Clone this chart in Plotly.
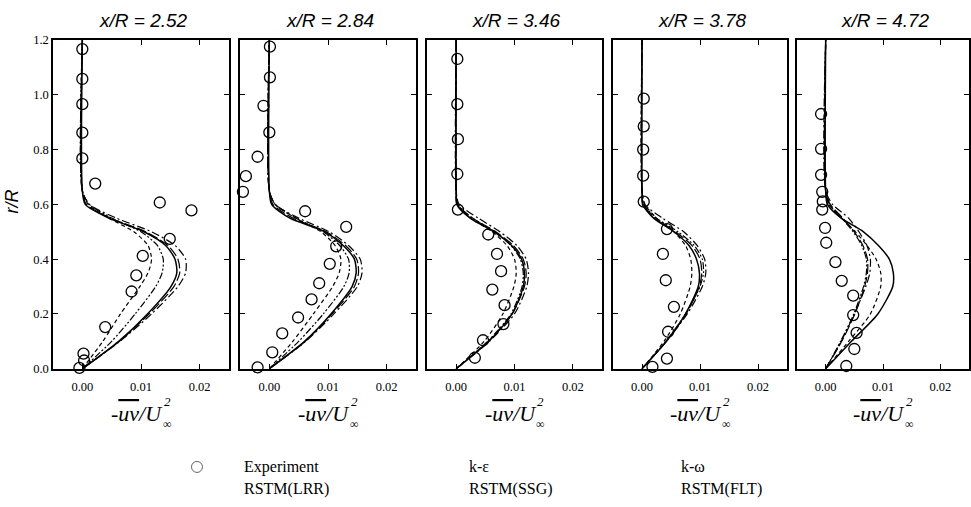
import plotly.graph_objects as go

# ---------------- data ----------------
PANEL_TITLES = ["x/R = 2.52", "x/R = 2.84", "x/R = 3.46", "x/R = 3.78", "x/R = 4.72"]
X_TICKS = [0.0, 0.01, 0.02]
Y_TICKS = [0.0, 0.2, 0.4, 0.6, 0.8, 1.0, 1.2]

# radial grid on which the model curves were read
R_GRID = [0.0, 0.1, 0.2, 0.3, 0.35, 0.4, 0.45, 0.5, 0.55, 0.6, 0.65, 1.2]

KE = [
    [0, 0.0062, 0.0111, 0.0151, 0.0161, 0.0158, 0.0142, 0.0105, 0.0045, 0.0005, 0, 0],
    [0, 0.0060, 0.0105, 0.0141, 0.0148, 0.0145, 0.0126, 0.0095, 0.0035, 0.0004, 0, 0],
    [0, 0.0056, 0.0096, 0.0115, 0.0117, 0.0112, 0.0095, 0.0065, 0.0024, 0.0001, 0, 0],
    [0, 0.0042, 0.0075, 0.0097, 0.0099, 0.0094, 0.0081, 0.0055, 0.0020, 0.0001, 0, 0],
    [0, 0.0045, 0.0091, 0.0117, 0.0118, 0.0111, 0.0092, 0.0066, 0.0027, 0.0003, 0, 0],
]
KW = [
    [0, 0.0035, 0.0065, 0.0098, 0.0112, 0.0118, 0.0112, 0.0088, 0.0045, 0.0010, 0, 0],
    [0, 0.0040, 0.0075, 0.0108, 0.0119, 0.0122, 0.0112, 0.0088, 0.0045, 0.0010, 0, 0],
    [0, 0.0048, 0.0080, 0.0099, 0.0103, 0.0100, 0.0087, 0.0062, 0.0025, 0.0003, 0, 0],
    [0, 0.0038, 0.0066, 0.0083, 0.0086, 0.0084, 0.0075, 0.0055, 0.0025, 0.0005, 0, 0],
    [0, 0.0040, 0.0078, 0.0096, 0.0096, 0.0088, 0.0072, 0.0052, 0.0028, 0.0006, 0, 0],
]
LRR = [
    [0, 0.0063, 0.0114, 0.0156, 0.0166, 0.0163, 0.0146, 0.0108, 0.0048, 0.0007, 0, 0],
    [0, 0.0061, 0.0107, 0.0145, 0.0152, 0.0149, 0.0130, 0.0097, 0.0040, 0.0006, 0, 0],
    [0, 0.0055, 0.0096, 0.0117, 0.0120, 0.0115, 0.0098, 0.0068, 0.0028, 0.0002, 0, 0],
    [0, 0.0042, 0.0076, 0.0099, 0.0103, 0.0100, 0.0086, 0.0058, 0.0022, 0.0002, 0, 0],
    [0, 0.0028, 0.0051, 0.0068, 0.0073, 0.0073, 0.0065, 0.0050, 0.0030, 0.0008, 0, 0],
]
SSG = [
    [0, 0.0064, 0.0118, 0.0163, 0.0176, 0.0176, 0.0158, 0.0118, 0.0058, 0.0012, 0, 0],
    [0, 0.0062, 0.0110, 0.0150, 0.0158, 0.0155, 0.0135, 0.0102, 0.0050, 0.0010, 0, 0],
    [0, 0.0057, 0.0100, 0.0121, 0.0124, 0.0120, 0.0104, 0.0075, 0.0038, 0.0005, 0, 0],
    [0, 0.0042, 0.0078, 0.0104, 0.0110, 0.0108, 0.0095, 0.0072, 0.0035, 0.0005, 0, 0],
    [0, 0.0027, 0.0050, 0.0070, 0.0077, 0.0078, 0.0072, 0.0058, 0.0040, 0.0012, 0, 0],
]
FLT = [
    [0, 0.0050, 0.0090, 0.0125, 0.0136, 0.0138, 0.0128, 0.0100, 0.0050, 0.0012, 0, 0],
    [0, 0.0050, 0.0092, 0.0127, 0.0136, 0.0135, 0.0120, 0.0092, 0.0045, 0.0010, 0, 0],
    [0, 0.0054, 0.0094, 0.0113, 0.0115, 0.0110, 0.0094, 0.0066, 0.0028, 0.0002, 0, 0],
    [0, 0.0041, 0.0075, 0.0100, 0.0106, 0.0104, 0.0090, 0.0062, 0.0025, 0.0003, 0, 0],
    [0, 0.0026, 0.0049, 0.0066, 0.0071, 0.0071, 0.0063, 0.0048, 0.0028, 0.0006, 0, 0],
]

EXP_X = [
    [0.0, 0.0, 0.0, 0.0, 0.0, 0.0022, 0.0132, 0.0186, 0.0149, 0.0103, 0.0092, 0.0084, 0.0039, 0.0002, 0.0003, -0.0005],
    [0.0001, 0.0001, -0.0010, 0.0, -0.0020, -0.0040, -0.0045, 0.0061, 0.0131, 0.0114, 0.0103, 0.0085, 0.0072, 0.0049, 0.0022, 0.0005, -0.0020],
    [0.0002, 0.0002, 0.0003, 0.0002, 0.0003, 0.0055, 0.0070, 0.0077, 0.0062, 0.0083, 0.0081, 0.0046, 0.0032],
    [0.0003, 0.0003, 0.0002, 0.0002, 0.0003, 0.0043, 0.0036, 0.0041, 0.0055, 0.0045, 0.0043, 0.0018],
    [-0.0008, -0.0008, -0.0008, -0.0006, -0.0005, -0.0006, -0.0001, 0.0001, 0.0017, 0.0028, 0.0048, 0.0048, 0.0054, 0.0050, 0.0036],
]
EXP_R = [
    [1.167, 1.058, 0.966, 0.862, 0.768, 0.676, 0.607, 0.578, 0.474, 0.412, 0.341, 0.282, 0.152, 0.055, 0.030, 0.003],
    [1.176, 1.064, 0.960, 0.863, 0.774, 0.703, 0.646, 0.575, 0.518, 0.447, 0.383, 0.312, 0.253, 0.187, 0.129, 0.060, 0.005],
    [1.131, 0.966, 0.838, 0.711, 0.581, 0.490, 0.419, 0.356, 0.289, 0.232, 0.163, 0.104, 0.040],
    [0.986, 0.885, 0.800, 0.705, 0.610, 0.510, 0.419, 0.323, 0.226, 0.135, 0.037, 0.007],
    [0.930, 0.803, 0.708, 0.646, 0.611, 0.581, 0.514, 0.460, 0.389, 0.321, 0.267, 0.196, 0.131, 0.072, 0.010],
]

LEGEND_ROW1 = ["Experiment", "k-ε", "k-ω"]
LEGEND_ROW2 = ["RSTM(LRR)", "RSTM(SSG)", "RSTM(FLT)"]

# ---------------- layout geometry (pixels) ----------------
W, H = 971, 507
PANELS_PX = [(53, 229), (240, 416), (427, 602), (613, 787), (797, 969)]
Y_TOP_PX, Y_BOT_PX = 34, 372

MODELS = [
    ("k-ε", KE, dict(color="black", width=1.5)),
    ("k-ω", KW, dict(color="black", width=1.2, dash="4px,3px")),
    ("RSTM(LRR)", LRR, dict(color="black", width=1.2, dash="10px,3px")),
    ("RSTM(SSG)", SSG, dict(color="black", width=1.2, dash="8px,3px,2px,3px")),
    ("RSTM(FLT)", FLT, dict(color="black", width=1.2, dash="7px,2px,2px,2px,2px,2px")),
]

fig = go.Figure()
ydom = [1 - Y_BOT_PX / H, 1 - Y_TOP_PX / H]
serif = "Liberation Serif, Times New Roman, serif"
sans = "Liberation Sans, Arial, sans-serif"
tickfont = dict(family=serif, size=12.5, color="black")

for i in range(5):
    n = "" if i == 0 else str(i + 1)
    xa, ya = "x" + n, "y" + n
    for name, data, line in MODELS:
        fig.add_trace(go.Scatter(
            x=data[i], y=R_GRID, mode="lines", name=name, showlegend=False,
            line=dict(shape="spline", smoothing=0.7, **line),
            xaxis=xa, yaxis=ya))
    fig.add_trace(go.Scatter(
        x=EXP_X[i], y=EXP_R[i], mode="markers", name="Experiment", showlegend=False,
        marker=dict(symbol="circle-open", size=11, color="black", line=dict(width=1.3, color="black")),
        cliponaxis=False, xaxis=xa, yaxis=ya))

    x0, x1 = PANELS_PX[i]
    fig.layout["xaxis" + n] = dict(
        domain=[x0 / W, x1 / W], anchor=ya, range=[-0.005, 0.025],
        tickvals=X_TICKS, ticktext=["%.2f" % v for v in X_TICKS],
        ticks="inside", ticklen=5, tickwidth=1, tickcolor="black", ticklabelstandoff=6,
        showline=True, linecolor="black", linewidth=1.5, mirror="ticks",
        showgrid=False, zeroline=False, tickfont=tickfont)
    fig.layout["yaxis" + n] = dict(
        domain=ydom, anchor=xa, range=[0, 1.2],
        tickvals=Y_TICKS, ticktext=["%.1f" % v for v in Y_TICKS],
        showticklabels=(i == 0),
        ticks="inside", ticklen=5, tickwidth=1, tickcolor="black",
        showline=True, linecolor="black", linewidth=1.5, mirror="ticks",
        showgrid=False, zeroline=False, tickfont=tickfont)

    cx = (x0 + x1) / 2 / W
    fig.add_annotation(text="<i>" + PANEL_TITLES[i] + "</i>", x=cx + 2 / W, y=1 - 14 / H,
                       xref="paper", yref="paper", showarrow=False, xanchor="center", yanchor="middle",
                       font=dict(family=sans, size=19, color="black"))
    fig.add_annotation(
        text="<i>-<span style='text-decoration:overline'>uv</span>/U</i>",
        x=cx - 4 / W, y=1 - 418 / H, xref="paper", yref="paper", showarrow=False,
        xanchor="center", yanchor="middle",
        font=dict(family=serif, size=22, color="black"))
    fig.add_annotation(text="<i>2</i>", x=cx + 26 / W, y=1 - 406 / H, xref="paper", yref="paper",
                       showarrow=False, xanchor="center", yanchor="middle",
                       font=dict(family=serif, size=13, color="black"))
    fig.add_annotation(text="∞", x=cx + 26 / W, y=1 - 429 / H, xref="paper", yref="paper",
                       showarrow=False, xanchor="center", yanchor="middle",
                       font=dict(family=serif, size=12, color="black"))

fig.add_annotation(text="<i>r/R</i>", x=12 / W, y=1 - 200 / H, xref="paper", yref="paper",
                   showarrow=False, textangle=-90, xanchor="center", yanchor="middle",
                   font=dict(family=sans, size=18, color="black"))

# legend (text block)
leg_font = dict(family=serif, size=16, color="black")
LEG_X = [242, 467, 679]
for j in range(3):
    fig.add_annotation(text=LEGEND_ROW1[j], x=LEG_X[j] / W, y=1 - 473 / H, xref="paper", yref="paper",
                       xanchor="left", yanchor="middle", showarrow=False, font=leg_font)
    fig.add_annotation(text=LEGEND_ROW2[j], x=LEG_X[j] / W, y=1 - 496 / H, xref="paper", yref="paper",
                       xanchor="left", yanchor="middle", showarrow=False, font=leg_font)

# legend marker on an overlay axis spanning the page
fig.add_trace(go.Scatter(x=[197 / W], y=[1 - 473 / H], mode="markers", showlegend=False,
                         marker=dict(symbol="circle-open", size=11, color="#666",
                                     line=dict(width=1, color="#666")),
                         xaxis="x6", yaxis="y6", cliponaxis=False))
fig.layout["xaxis6"] = dict(domain=[0, 1], range=[0, 1], visible=False, anchor="y6")
fig.layout["yaxis6"] = dict(domain=[0, 1], range=[0, 1], visible=False, anchor="x6")

fig.update_layout(width=W, height=H, margin=dict(l=0, r=0, t=0, b=0),
                  paper_bgcolor="white", plot_bgcolor="rgba(0,0,0,0)", showlegend=False)

fig.write_html("out.html")
